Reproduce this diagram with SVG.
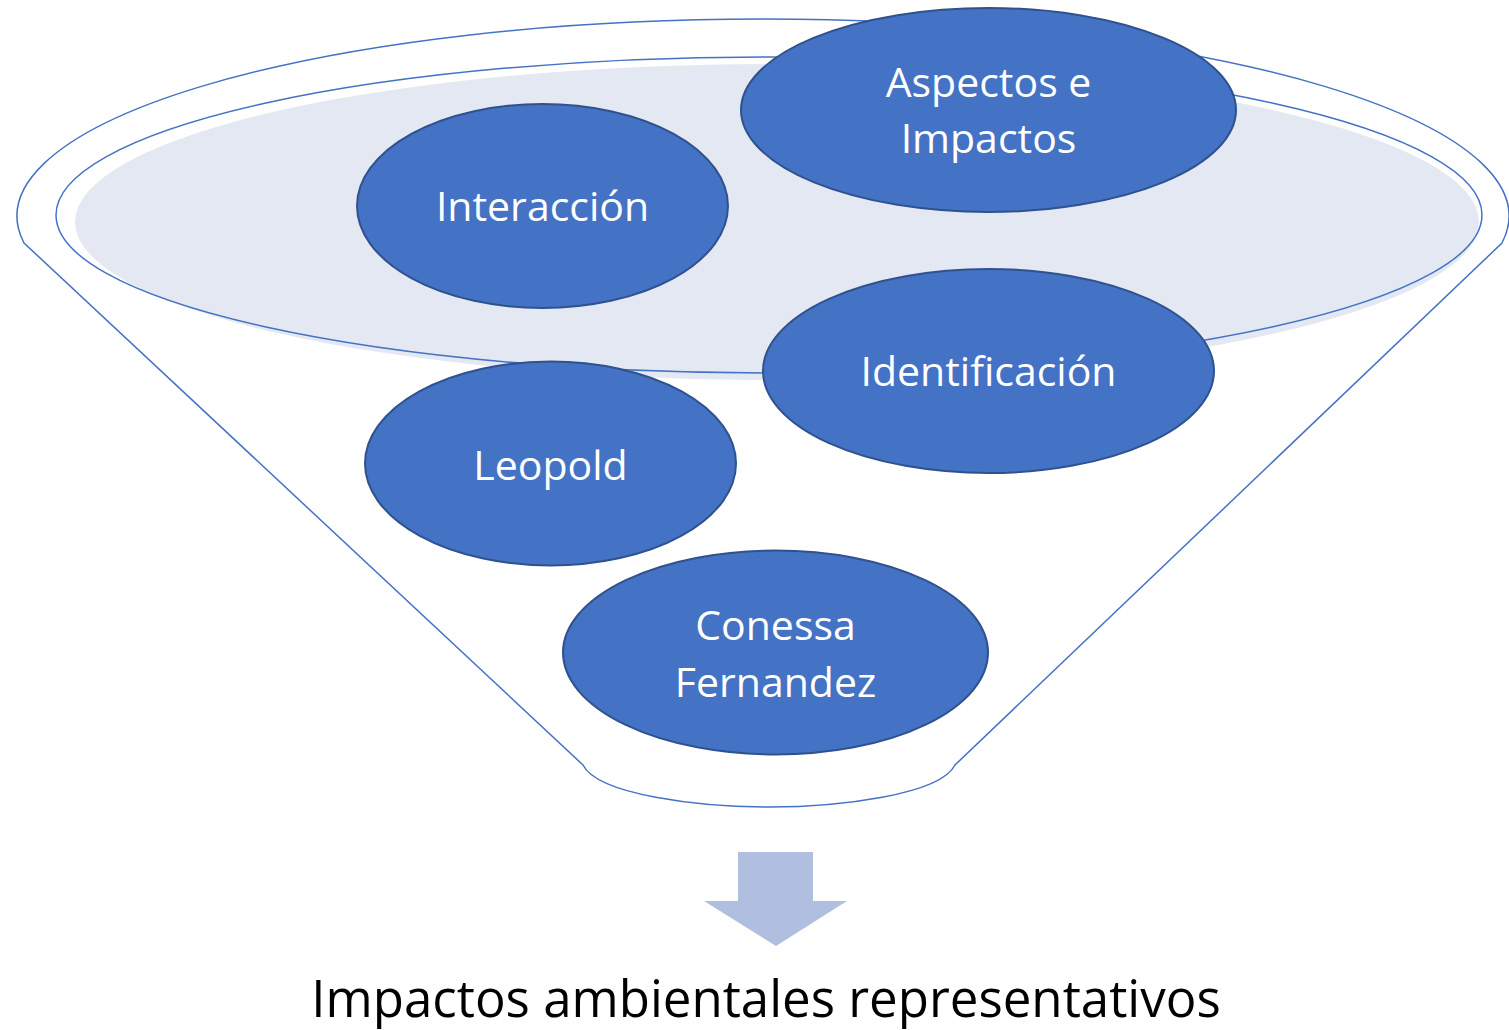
<svg xmlns="http://www.w3.org/2000/svg" width="1509" height="1030" viewBox="0 0 1509 1030">
<style>
.funnel{fill:none;stroke:#4472C4;stroke-width:1.5}
.node ellipse{fill:#4472C4;stroke:#2F528F;stroke-width:2}
.node text{fill:#FFFFFF;font-family:"Open Sans","Liberation Sans",sans-serif;font-size:41px;text-anchor:middle}
.caption{fill:#000000;font-family:"Open Sans","Liberation Sans",sans-serif;font-size:51px;text-anchor:middle}
</style>
<rect width="1509" height="1030" fill="#FFFFFF"/>
<g id="funnel">
<path class="funnel" d="M24,243 A746,197 0 1 1 1502,243 L955,765 C940,795 838,807 769,807 C700,807 598,795 583,765 Z"/>
<ellipse cx="777" cy="222" rx="702" ry="158" fill="#E4E8F3"/>
<ellipse class="funnel" cx="769" cy="215" rx="713" ry="158"/>
</g>
<g id="arrow">
<path d="M738,852 H813 V901 H847 L776,946 L704,901 H738 Z" fill="#B0BEE0"/>
</g>
<g id="connectors"></g>
<g id="node-interaccion" class="node">
<ellipse cx="542.5" cy="206" rx="185.5" ry="102"/>
<text x="542.5" y="221">Interacción</text>
</g>
<g id="node-aspectos" class="node">
<ellipse cx="988.5" cy="110" rx="247.5" ry="102"/>
<text x="988.5" y="97">Aspectos e</text>
<text x="988.5" y="153">Impactos</text>
</g>
<g id="node-identificacion" class="node">
<ellipse cx="988.5" cy="371" rx="225.5" ry="102"/>
<text x="988.5" y="386">Identificación</text>
</g>
<g id="node-leopold" class="node">
<ellipse cx="550.5" cy="463.5" rx="185.5" ry="102"/>
<text x="550.5" y="480">Leopold</text>
</g>
<g id="node-conessa" class="node">
<ellipse cx="775.5" cy="652.5" rx="212.5" ry="102"/>
<text x="775.5" y="640">Conessa</text>
<text x="775.5" y="697">Fernandez</text>
</g>
<text class="caption" x="766" y="1017">Impactos ambientales representativos</text>
</svg>
